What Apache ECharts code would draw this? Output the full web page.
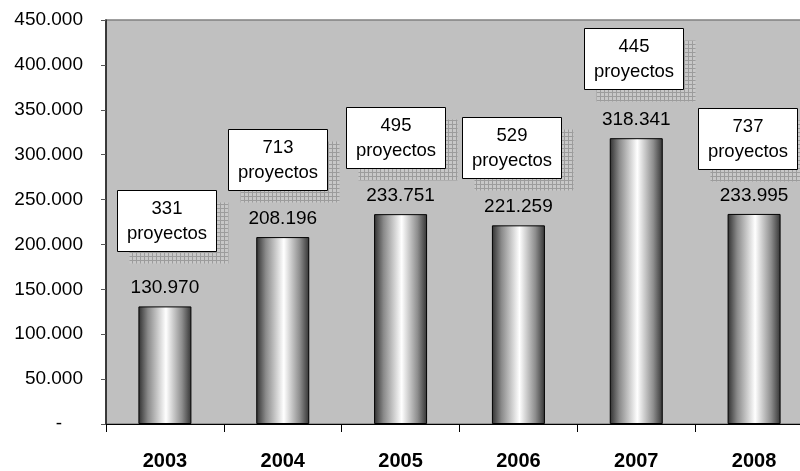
<!DOCTYPE html>
<html>
<head>
<meta charset="utf-8">
<script src="https://cdn.jsdelivr.net/npm/echarts@6/dist/echarts.min.js"></script>
<style>
  html, body { margin: 0; padding: 0; background: #ffffff; overflow: hidden; }
  #wrap { width: 800px; height: 471px; overflow: hidden; }
  #chart { width: 813px; height: 471px; }
</style>
</head>
<body>
<div id="wrap"><div id="chart"></div></div>
<script>
// Inversión por año y número de proyectos
const years = ['2003', '2004', '2005', '2006', '2007', '2008'];
const amounts = [130970, 208196, 233751, 221259, 318341, 233995];
const projects = [331, 713, 495, 529, 445, 737];
const yTicks = [0, 50000, 100000, 150000, 200000, 250000, 300000, 350000, 400000, 450000];

// Callout placement (value-axis level of each callout centre, and a small horizontal nudge in px)
const noteLevel = [227200, 294400, 318900, 308300, 407200, 318300];
const noteShiftX = [2, -5, -5, -7, -3, -7];

const fontFamily = '"Liberation Sans", Arial, sans-serif';

function fmt(v) {
  return String(Math.round(v)).replace(/\B(?=(\d{3})+(?!\d))/g, '.');
}

// Hatched fill for the callout shadows
const hatch = document.createElement('canvas');
hatch.width = 4; hatch.height = 4;
(function () {
  const c = hatch.getContext('2d');
  c.fillStyle = '#c8c8c8';
  c.fillRect(0, 0, 4, 4);
  c.fillStyle = '#9c9c9c';
  c.fillRect(0, 0, 4, 1);
  c.fillRect(0, 0, 1, 4);
})();

const chart = echarts.init(document.getElementById('chart'), null, { renderer: 'canvas' });

const option = {
  animation: false,
  backgroundColor: '#ffffff',
  grid: {
    left: 106, top: 20, right: 0, bottom: 46,
    show: true, backgroundColor: '#c0c0c0', borderWidth: 1.5, borderColor: '#808080'
  },
  xAxis: {
    type: 'category',
    data: years,
    boundaryGap: true,
    axisLine: { show: true, lineStyle: { color: '#000', width: 1 } },
    axisTick: { show: true, length: 8, alignWithLabel: false, lineStyle: { color: '#000' } },
    axisLabel: {
      margin: 27, color: '#000', fontSize: 20, fontWeight: 'bold', fontFamily: fontFamily
    },
    splitLine: { show: false }
  },
  yAxis: {
    type: 'value',
    min: yTicks[0],
    max: yTicks[yTicks.length - 1],
    interval: yTicks[1] - yTicks[0],
    axisLine: { show: true, lineStyle: { color: '#1a1a1a', width: 1.5 } },
    axisTick: { show: true, length: 5, lineStyle: { color: '#555' } },
    axisLabel: {
      margin: 23, color: '#000', fontSize: 19, fontFamily: fontFamily,
      formatter: function (v) { return v === 0 ? '{d|-}' : fmt(v); },
      rich: { d: { fontSize: 19, fontFamily: fontFamily, color: '#000', padding: [0, 21, 0, 0] } }
    },
    splitLine: { show: false }
  },
  series: [
    {
      type: 'bar',
      data: amounts,
      barWidth: 53,
      itemStyle: {
        borderColor: '#000',
        borderWidth: 1,
        color: new echarts.graphic.LinearGradient(0, 0, 1, 0, [
          { offset: 0, color: '#303030' },
          { offset: 0.18, color: '#8a8a8a' },
          { offset: 0.52, color: '#ffffff' },
          { offset: 0.82, color: '#8e8e8e' },
          { offset: 1, color: '#333333' }
        ])
      },
      label: {
        show: true,
        position: 'top',
        distance: 9,
        color: '#000',
        fontSize: 19,
        fontFamily: fontFamily,
        formatter: function (p) { return fmt(p.value); }
      }
    },
    {
      type: 'custom',
      clip: false,
      z: 5,
      data: years.map(function (y, i) { return [i, noteLevel[i], projects[i]]; }),
      renderItem: function (params, api) {
        const i = api.value(0);
        const c = api.coord([i, api.value(1)]);
        const w = 99, h = 61, off = 12;
        const cx = c[0] + noteShiftX[params.dataIndex];
        const x0 = Math.round(cx - w / 2) + 0.5;
        const y0 = Math.round(c[1] - h / 2) + 0.5;
        return {
          type: 'group',
          children: [
            {
              type: 'rect',
              shape: { x: x0 + off, y: y0 + off, width: w, height: h },
              style: { fill: { image: hatch, repeat: 'repeat' }, stroke: null }
            },
            {
              type: 'rect',
              shape: { x: x0, y: y0, width: w, height: h },
              style: { fill: '#ffffff', stroke: '#000', lineWidth: 1 }
            },
            {
              type: 'text',
              style: {
                x: x0 + w / 2, y: y0 + h / 2 - 12.5,
                text: String(api.value(2)),
                align: 'center', verticalAlign: 'middle',
                fill: '#000', fontSize: 18.5, fontFamily: fontFamily
              }
            },
            {
              type: 'text',
              style: {
                x: x0 + w / 2, y: y0 + h / 2 + 12.5,
                text: 'proyectos',
                align: 'center', verticalAlign: 'middle',
                fill: '#000', fontSize: 18.5, fontFamily: fontFamily
              }
            }
          ]
        };
      }
    }
  ]
};

chart.setOption(option);
</script>
</body>
</html>
